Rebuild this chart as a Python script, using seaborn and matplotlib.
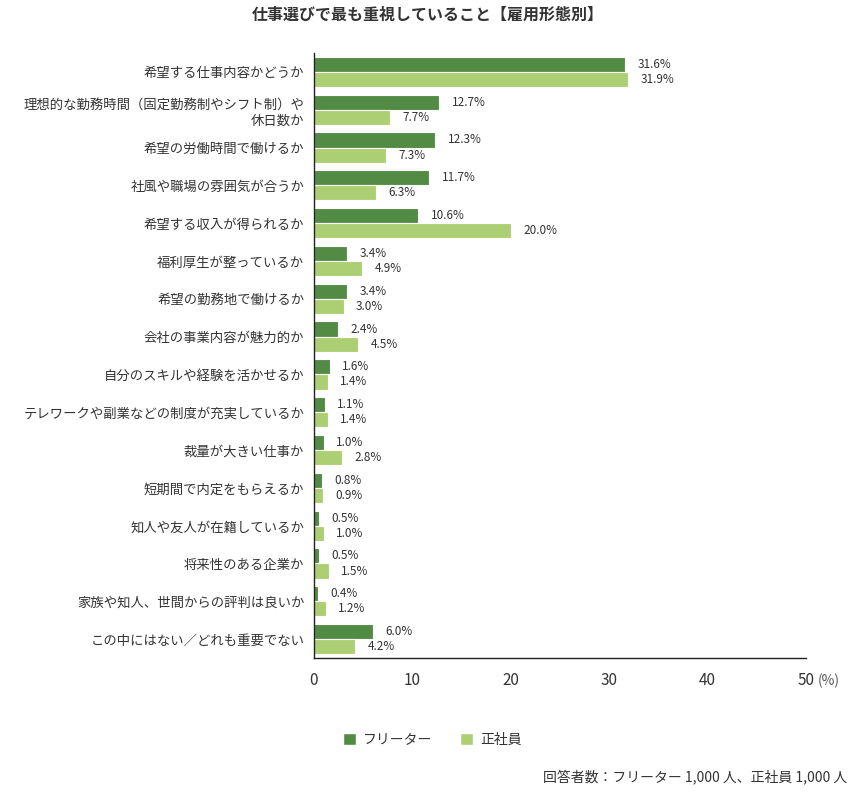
import numpy as np
import pandas as pd
import matplotlib
matplotlib.use("Agg")
import matplotlib.pyplot as plt
import seaborn as sns
from matplotlib.patches import Patch

sns.set_theme(style="white")
plt.rcParams['font.family'] = ['Noto Sans CJK JP', 'DejaVu Sans']

# データ
categories = [
    "希望する仕事内容かどうか",
    "理想的な勤務時間（固定勤務制やシフト制）や\n休日数か",
    "希望の労働時間で働けるか",
    "社風や職場の雰囲気が合うか",
    "希望する収入が得られるか",
    "福利厚生が整っているか",
    "希望の勤務地で働けるか",
    "会社の事業内容が魅力的か",
    "自分のスキルや経験を活かせるか",
    "テレワークや副業などの制度が充実しているか",
    "裁量が大きい仕事か",
    "短期間で内定をもらえるか",
    "知人や友人が在籍しているか",
    "将来性のある企業か",
    "家族や知人、世間からの評判は良いか",
    "この中にはない／どれも重要でない",
]
freeter = [31.6, 12.7, 12.3, 11.7, 10.6, 3.4, 3.4, 2.4, 1.6, 1.1, 1.0, 0.8, 0.5, 0.5, 0.4, 6.0]
seishain = [31.9, 7.7, 7.3, 6.3, 20.0, 4.9, 3.0, 4.5, 1.4, 1.4, 2.8, 0.9, 1.0, 1.5, 1.2, 4.2]
groups = ["フリーター", "正社員"]
x_ticks = [0, 10, 20, 30, 40, 50]

dark = "#528B44"
light = "#ADCF73"
txt = "#333333"

df = pd.DataFrame({
    "item": categories * 2,
    "value": freeter + seishain,
    "group": [groups[0]] * len(categories) + [groups[1]] * len(categories),
})

fig = plt.figure(figsize=(8.56, 7.95), dpi=100)
ax = fig.add_axes([0.3668, 0.1723, 0.5748, 0.761])

sns.barplot(data=df, y="item", x="value", hue="group", order=categories,
            hue_order=groups, palette=[dark, light], saturation=1, width=0.8,
            edgecolor="white", linewidth=0.8, legend=False, ax=ax)

# 数値ラベル
for cont in ax.containers:
    ax.bar_label(cont, labels=[f"{v:.1f}%" for v in cont.datavalues],
                 padding=9, fontsize=8.5, color=txt)

ax.set_xlim(0, 50)
ax.set_ylim(15.5, -0.5)
ax.set_xticks(x_ticks)
ax.set_xticklabels([str(t) for t in x_ticks], fontsize=11, color=txt)
ax.tick_params(axis="x", length=0, pad=10)
ax.tick_params(axis="y", length=0, pad=7, labelsize=9.6, labelcolor=txt)
for lab in ax.get_yticklabels():
    lab.set_multialignment("right")
ax.set_xlabel("")
ax.set_ylabel("")
ax.spines["top"].set_visible(False)
ax.spines["right"].set_visible(False)
for s in ["left", "bottom"]:
    ax.spines[s].set_color("#222222")
    ax.spines[s].set_linewidth(1.0)

ax.text(1.024, -0.0265, "(%)", transform=ax.transAxes, fontsize=10,
        color="#555555", va="top", ha="left")

fig.text(0.5, 0.982, "仕事選びで最も重視していること【雇用形態別】",
         ha="center", va="center", fontsize=11.5, fontweight="bold", color=txt)

handles = [Patch(facecolor=dark, label=groups[0]),
           Patch(facecolor=light, label=groups[1])]
fig.legend(handles=handles, loc="center", bbox_to_anchor=(0.505, 0.069), ncol=2,
           frameon=False, fontsize=10, handlelength=0.95, handleheight=0.95,
           handletextpad=0.5, columnspacing=2.0, labelcolor=txt)

fig.text(0.99, 0.012, "回答者数：フリーター 1,000 人、正社員 1,000 人",
         ha="right", va="bottom", fontsize=10, color=txt)

fig.savefig("out.png", dpi=100)
